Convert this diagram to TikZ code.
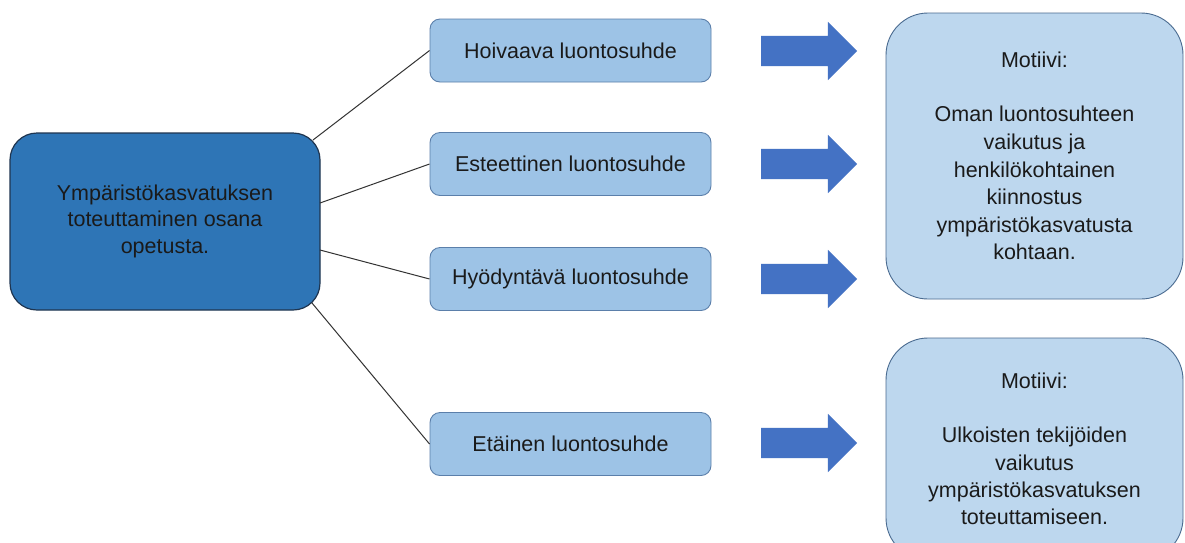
\documentclass[tikz,border=0pt]{standalone}
\usepackage{fontspec}
\setmainfont{Liberation Sans}
\usetikzlibrary{shapes.arrows}
\definecolor{mainfill}{HTML}{2E75B6}
\definecolor{mainedge}{HTML}{1F3550}
\definecolor{relfill}{HTML}{9DC3E6}
\definecolor{reledge}{HTML}{5B7FAA}
\definecolor{motfill}{HTML}{BDD7EE}
\definecolor{motedge}{HTML}{4A6B90}
\definecolor{arrowfill}{HTML}{4472C4}
\definecolor{txt}{HTML}{1A1A1A}
\begin{document}
\begin{tikzpicture}[x=1pt,y=-1pt,
  every node/.style={font=\fontsize{21.5}{26.8}\selectfont, text=txt, align=center, inner sep=0pt},
  mainbox/.style={draw=mainedge, line width=1.2pt, fill=mainfill, rounded corners=27pt, minimum width=310pt, minimum height=177pt},
  relbox/.style={draw=reledge, line width=0.9pt, fill=relfill, rounded corners=10pt, minimum width=281pt, minimum height=63pt},
  motbox/.style={draw=motedge, line width=0.9pt, fill=motfill, rounded corners=42pt, minimum width=297pt},
  bigarrow/.style={single arrow, fill=arrowfill, draw=none, inner xsep=0pt, inner ysep=15pt, minimum height=96pt, single arrow head extend=14pt, single arrow head indent=0pt, single arrow tip angle=90},
  link/.style={draw=black!80, line width=1pt}
]
\useasboundingbox (0,0) rectangle (1185,542);
\fill[white] (0,0) rectangle (1185,542);

\node[mainbox] (main) at (165,221.5) {\raisebox{-3pt}{\begin{tabular}{@{}c@{}}Ympäristökasvatuksen\\toteuttaminen osana\\opetusta.\end{tabular}}};

\node[relbox] (r1) at (570.5,50.5) {Hoivaava luontosuhde};
\node[relbox] (r2) at (570.5,164) {Esteettinen luontosuhde};
\node[relbox] (r3) at (570.5,279) {Hyödyntävä luontosuhde};
\node[relbox] (r4) at (570.5,444) {Etäinen luontosuhde};

\node[bigarrow] (a1) at (801.5,51) {};
\node[bigarrow] (a2) at (801.5,164) {};
\node[bigarrow] (a3) at (801.5,279) {};
\node[bigarrow] (a4) at (801.5,443) {};

\node[motbox, minimum height=286pt] (m1) at (1034.5,156) {Motiivi:\\[27.6pt]Oman luontosuhteen\\[0.8pt]vaikutus ja\\[0.8pt]henkilökohtainen\\[0.8pt]kiinnostus\\[0.8pt]ympäristökasvatusta\\[0.8pt]kohtaan.};
\node[motbox, minimum height=222pt] (m2) at (1034.5,449) {Motiivi:\\[27.2pt]Ulkoisten tekijöiden\\[0.4pt]vaikutus\\[0.4pt]ympäristökasvatuksen\\[0.4pt]toteuttamiseen.};

\coordinate (s1) at (313,140);
\coordinate (s2) at (320,203);
\coordinate (s3) at (320,250);
\coordinate (s4) at (312,303);
\draw[link] (s1) -- (r1.west);
\draw[link] (s2) -- (r2.west);
\draw[link] (s3) -- (r3.west);
\draw[link] (s4) -- (r4.west);
\end{tikzpicture}
\end{document}
